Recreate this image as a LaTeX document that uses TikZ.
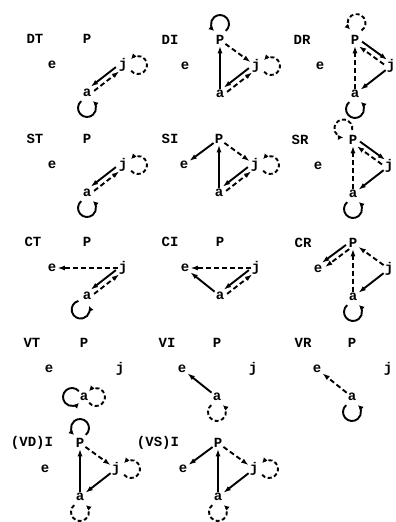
\documentclass[tikz,border=0pt]{standalone}
\usepackage{fontspec}
\setmonofont{Liberation Mono}
\usetikzlibrary{arrows.meta}
\tikzset{
  lbl/.style={font=\ttfamily\bfseries\fontsize{14}{14}\selectfont, inner sep=0pt},
  vtx/.style={font=\ttfamily\bfseries\fontsize{14}{14}\selectfont, inner sep=1pt},
  sol/.style={line width=1.9pt, -{Latex[length=7.5pt,width=5pt]}},
  dsh/.style={sol, dash pattern=on 5pt off 3pt},
  lsol/.style={line width=1.9pt, -{Latex[length=5.5pt,width=5pt]}},
  ldsh/.style={lsol, dash pattern=on 4pt off 2.5pt},
}
% #1 name, #2 px, #3 py, #4 label, #5 label x
\newcommand\mkpanel[5]{%
  \node[lbl] (#1-L) at (#5,-#3) {#4};
  \node[vtx] (#1-p) at (#2,-#3) {P};
  \node[vtx] (#1-e) at ({#2-35},{-#3-26}) {e};
  \node[vtx] (#1-j) at ({#2+36},{-#3-26}) {j};
  \node[vtx] (#1-a) at (#2,{-#3-54}) {a};
}
% loop: #1 style, #2 node, #3 direction angle, #4 centre distance
\newcommand\lp[4]{%
  \draw[#1] (#2) ++({#3}:#4) ++({#3+220}:9) arc[start angle={#3+220}, end angle={#3+500}, radius=9];
}
% pair: solid #1->#2 shifted (#3,#4), dashed #2->#1 shifted (#5,#6)
\newcommand\pairs[6]{%
  \draw[sol, transform canvas={shift={(#3,#4)}}] (#1) -- (#2);
  \draw[dsh, transform canvas={shift={(#5,#6)}}] (#2) -- (#1);
}
\begin{document}
\begin{tikzpicture}[x=1pt,y=1pt]
\useasboundingbox (0,0) rectangle (396,-522);
\fill[white] (0,0) rectangle (396,-522);

\mkpanel{DT}{87}{39}{DT}{35}
\mkpanel{DI}{220}{40}{DI}{170}
\mkpanel{DR}{355}{40}{DR}{302}
\mkpanel{ST}{87}{139}{ST}{35}
\mkpanel{SI}{219}{139}{SI}{170}
\mkpanel{SR}{353}{140}{SR}{300}
\mkpanel{CT}{87}{242}{CT}{33}
\mkpanel{CI}{220}{242}{CI}{170}
\mkpanel{CR}{353}{243}{CR}{303}
\mkpanel{VT}{84}{343}{VT}{32}
\mkpanel{VI}{217}{343}{VI}{167}
\mkpanel{VR}{352}{343}{VR}{303}
\mkpanel{VD}{80}{443}{(VD)I}{32}
\mkpanel{VS}{218}{443}{(VS)I}{158}

% DT
\pairs{DT-j}{DT-a}{-1.7}{2.1}{1.7}{-2.1}
\lp{lsol}{DT-a}{-90}{15}
\lp{ldsh}{DT-j}{0}{15}
% DI
\lp{lsol}{DI-p}{90}{16}
\draw[sol] (DI-a) -- (DI-p);
\draw[dsh] (DI-p) -- (DI-j);
\pairs{DI-j}{DI-a}{-1.7}{2.1}{1.7}{-2.1}
\lp{ldsh}{DI-j}{0}{15}
% DR
\lp{ldsh}{DR-p}{85}{17}
\pairs{DR-p}{DR-j}{1.6}{2.3}{-1.6}{-2.3}
\draw[sol] (DR-j) -- (DR-a);
\draw[dsh] (DR-a) -- (DR-p);
\lp{lsol}{DR-a}{-90}{15}
% ST
\pairs{ST-j}{ST-a}{-1.7}{2.1}{1.7}{-2.1}
\lp{ldsh}{ST-j}{0}{15}
\lp{lsol}{ST-a}{-90}{15}
% SI
\draw[sol] (SI-p) -- (SI-e);
\draw[sol] (SI-a) -- (SI-p);
\draw[dsh] (SI-p) -- (SI-j);
\pairs{SI-j}{SI-a}{-1.7}{2.1}{1.7}{-2.1}
\lp{ldsh}{SI-j}{0}{15}
% SR
\lp{ldsh}{SR-p}{130}{15}
\pairs{SR-p}{SR-j}{1.6}{2.3}{-1.6}{-2.3}
\draw[sol] (SR-j) -- (SR-a);
\draw[dsh] (SR-a) -- (SR-p);
\lp{lsol}{SR-a}{-90}{15}
% CT
\draw[dsh] (CT-j) -- (CT-e);
\pairs{CT-j}{CT-a}{-1.7}{2.1}{1.7}{-2.1}
\lp{lsol}{CT-a}{-115}{15}
% CI
\draw[dsh] (CI-j) -- (CI-e);
\draw[sol] (CI-a) -- (CI-e);
\pairs{CI-j}{CI-a}{-1.7}{2.1}{1.7}{-2.1}
% CR
\draw[sol, transform canvas={shift={(-1.6,2.1)}}] (CR-p) -- (CR-e);
\draw[dsh, transform canvas={shift={(1.6,-2.1)}}] (CR-p) -- (CR-e);
\draw[dsh] (CR-a) -- (CR-p);
\draw[dsh] (CR-j) -- (CR-p);
\draw[sol] (CR-j) -- (CR-a);
\lp{lsol}{CR-a}{-90}{15}
% VT
\lp{lsol}{VT-a}{180}{12}
\lp{ldsh}{VT-a}{0}{12}
% VI
\draw[sol] (VI-a) -- (VI-e);
\lp{ldsh}{VI-a}{-90}{15}
% VR
\draw[dsh] (VR-a) -- (VR-e);
\lp{lsol}{VR-a}{-90}{15}
% (VD)I
\lp{lsol}{VD-p}{90}{15}
\draw[sol] (VD-a) -- (VD-p);
\draw[dsh] (VD-p) -- (VD-j);
\draw[sol] (VD-j) -- (VD-a);
\lp{ldsh}{VD-j}{0}{15}
\lp{ldsh}{VD-a}{-90}{15}
% (VS)I
\draw[sol] (VS-p) -- (VS-e);
\draw[sol] (VS-a) -- (VS-p);
\draw[dsh] (VS-p) -- (VS-j);
\draw[sol] (VS-j) -- (VS-a);
\lp{ldsh}{VS-j}{0}{15}
\lp{ldsh}{VS-a}{-90}{15}
\end{tikzpicture}
\end{document}
